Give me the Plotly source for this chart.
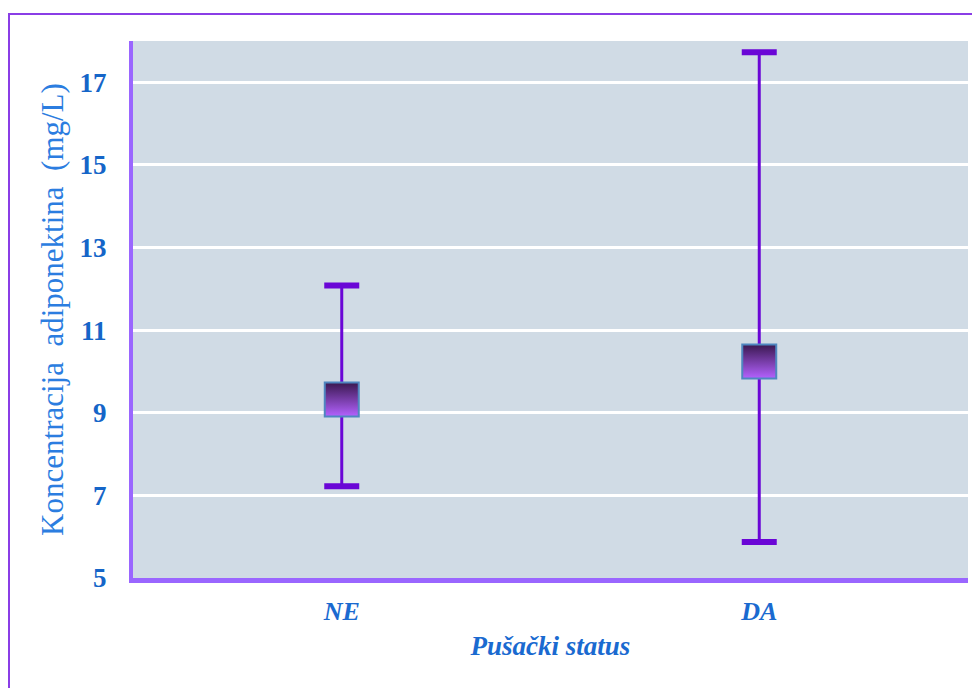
import plotly.graph_objects as go

categories = ["NE", "DA"]
means = [9.32, 10.24]
upper = [12.08, 17.73]
lower = [7.22, 5.87]
y_ticks = [5, 7, 9, 11, 13, 15, 17]

err_plus = [u - m for u, m in zip(upper, means)]
err_minus = [m - l for m, l in zip(means, lower)]

fig = go.Figure()

# error bars (stem)
fig.add_trace(go.Scatter(
    x=categories, y=means, mode="markers",
    marker=dict(size=1, color="rgba(0,0,0,0)"),
    error_y=dict(type="data", symmetric=False, array=err_plus, arrayminus=err_minus,
                 color="#6a06d6", thickness=3, width=0),
    hoverinfo="skip", showlegend=False))

# caps
fig.add_trace(go.Scatter(
    x=categories + categories, y=upper + lower, mode="markers",
    marker=dict(symbol="line-ew", size=25, line=dict(color="#6a06d6", width=6)),
    hoverinfo="skip", showlegend=False))

# mean squares
fig.add_trace(go.Scatter(
    x=categories, y=means, mode="markers",
    marker=dict(symbol="square", size=34, color="#3a1850",
                gradient=dict(type="vertical", color="#b462ff"),
                line=dict(color="#4f86c0", width=2)),
    showlegend=False))

fig.update_layout(
    width=972, height=680,
    margin=dict(l=125, r=12, t=33, b=110),
    paper_bgcolor="white",
    plot_bgcolor="#d0dbe5",
    font=dict(family="Liberation Serif, Times New Roman, serif"),
    xaxis=dict(
        range=[-0.5, 1.5], type="category",
        showgrid=False, zeroline=False,
        showline=True, linecolor="#9a66ff", linewidth=5,
        ticks="outside", ticklen=6, tickcolor="rgba(0,0,0,0)",
        tickfont=dict(size=26, color="#1a6ad0",
                      family="Liberation Serif, serif", weight="bold", style="italic"),
        title=dict(text="<b><i>Pušački status</i></b>", standoff=12,
                   font=dict(size=27, color="#1a6ad0", family="Liberation Serif, serif")),
    ),
    yaxis=dict(
        range=[5, 18], tickvals=y_ticks, ticktext=[str(t) for t in y_ticks],
        showgrid=True, gridcolor="white", gridwidth=3,
        zeroline=False,
        showline=True, linecolor="#9a66ff", linewidth=4,
        ticks="outside", ticklen=17, tickcolor="rgba(0,0,0,0)",
        tickfont=dict(size=27, color="#1565c8",
                      family="Liberation Serif, serif", weight="bold"),
        title=dict(text="Koncentracija  adiponektina  (mg/L)", standoff=8,
                   font=dict(size=31, color="#2b7de0", family="Liberation Serif, serif")),
    ),
    shapes=[dict(type="rect", xref="paper", yref="paper",
                 x0=-0.1485, x1=1.2, y0=-0.4, y1=1.0503,
                 line=dict(color="#8a3ee6", width=2), layer="below",
                 fillcolor="rgba(0,0,0,0)")],
)

fig.write_html("out.html")
